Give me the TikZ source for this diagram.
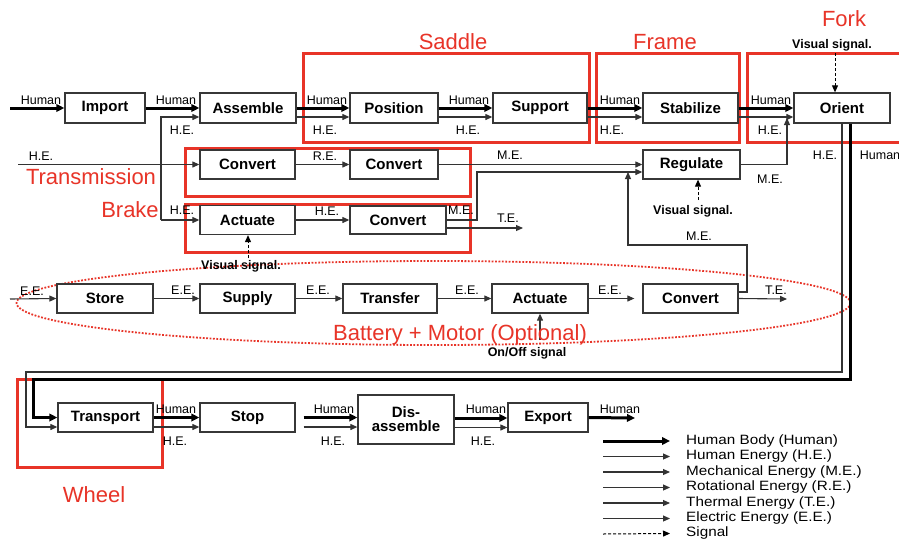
\documentclass[tikz,border=0pt]{standalone}
\usepackage{fontspec}
\setmainfont{Liberation Sans}
\usetikzlibrary{arrows.meta,calc}
\definecolor{redc}{RGB}{232,52,40}
\definecolor{boxc}{RGB}{55,55,55}
\begin{document}
\begin{tikzpicture}[x=1pt,y=-1pt,
  fbox/.style={draw=boxc, line width=1.3pt, fill=white, font=\fontsize{15}{16}\selectfont\bfseries, inner sep=0pt, align=center},
  lbl/.style={font=\fontsize{12.5}{13}\selectfont, inner sep=0pt},
  sigl/.style={font=\fontsize{12.5}{13}\selectfont\bfseries, inner sep=0pt},
  redlbl/.style={text=redc, font=\fontsize{22}{24}\selectfont, inner sep=0pt},
  hum/.style={line width=3pt, -{Triangle[length=8pt,width=7.5pt]}},
  he/.style={line width=1.1pt, draw=black!80, -{Triangle[length=7pt,width=6pt]}},
  sigarr/.style={line width=1pt, dash pattern=on 3pt off 2pt, -{Triangle[length=7pt,width=6pt]}},
  redbox/.style={draw=redc, line width=3pt},
  legt/.style={font=\fontsize{13.5}{14}\selectfont, inner sep=0pt, anchor=west, xscale=1.13}]
\useasboundingbox[fill=white] (0,0) rectangle (899,541);

% ---------- red annotation boxes ----------
\draw[redbox] (303,53) rectangle (589,142);
\draw[redbox] (596,53) rectangle (739,142);
\draw[redbox] (899,53) -- (747,53) -- (747,142) -- (899,142);
\draw[redbox] (185,148) rectangle (470,196);
\draw[redbox] (185,204) rectangle (470,252);
\draw[redbox] (17,379) rectangle (162,467);
\draw[redc, line width=1.8pt, dash pattern=on 1.8pt off 1.6pt] (433.5,303) ellipse [x radius=417, y radius=42];

% ---------- boxes ----------
\node[fbox, minimum width=80, minimum height=30] (import) at (105,108) {Import};
\node[fbox, minimum width=96, minimum height=30] (assemble) at (248,108) {Assemble};
\node[fbox, minimum width=88, minimum height=30] (position) at (394,108) {Position};
\node[fbox, minimum width=94, minimum height=30] (support) at (540,108) {Support};
\node[fbox, minimum width=95, minimum height=30] (stabilize) at (690.5,108) {Stabilize};
\node[fbox, minimum width=96, minimum height=30] (orient) at (842,108) {Orient};
\node[fbox, minimum width=95, minimum height=29] (conv1) at (247.5,164.5) {Convert};
\node[fbox, minimum width=88, minimum height=29] (conv2) at (394,164.5) {Convert};
\node[fbox, minimum width=97, minimum height=29] (regulate) at (691.5,164.5) {Regulate};
\node[fbox, minimum width=95, minimum height=29] (actuate1) at (247.5,220) {Actuate};
\node[fbox, minimum width=96, minimum height=28] (conv3) at (398,220) {Convert};
\node[fbox, minimum width=96, minimum height=29] (store) at (105,298.5) {Store};
\node[fbox, minimum width=95, minimum height=29] (supply) at (247.5,298.5) {Supply};
\node[fbox, minimum width=94, minimum height=29] (transfer) at (390,298.5) {Transfer};
\node[fbox, minimum width=96, minimum height=29] (actuate2) at (540,298.5) {Actuate};
\node[fbox, minimum width=95, minimum height=29] (conv4) at (690.5,298.5) {Convert};
\node[fbox, minimum width=95, minimum height=29] (transport) at (105.5,417.5) {Transport};
\node[fbox, minimum width=95, minimum height=29] (stop) at (247.5,417.5) {Stop};
\node[fbox, minimum width=96, minimum height=49] (disassemble) at (406,419.5) {Dis-\\[-2pt]assemble};
\node[fbox, minimum width=80, minimum height=29] (export) at (548,417.5) {Export};

% ---------- free ends ----------
\coordinate (inHum) at (10,108);
\coordinate (inHE) at (18,164.5);
\coordinate (hv) at (161,220);
\coordinate (me3) at (477,172);
\coordinate (te3) at (523,228);
\coordinate (vs1) at (835,53);
\coordinate (vs2) at (698,200);
\coordinate (vs3) at (248,258);
\coordinate (mejoin) at (787,118);
\coordinate (c4a) at (747,245);
\coordinate (c4b) at (628,172);
\coordinate (thinL) at (26,372);
\coordinate (thickL) at (33,379);
\coordinate (inEE) at (10,299);
\coordinate (teOut) at (787,299);
\coordinate (onoff) at (540,340);
\coordinate (outHum) at (635,418);

% ---------- row 1 ----------
\draw[hum] (inHum) -- (import.west);
\draw[hum] (import.east) -- (assemble.west);
\draw[he] (hv) |- ([yshift=-9pt]assemble.west);
\draw[he] (hv) -- (actuate1.west);
\draw[hum] (assemble.east) -- (position.west);
\draw[he] ([yshift=-9pt]assemble.east) -- ([yshift=-9pt]position.west);
\draw[hum] (position.east) -- (support.west);
\draw[he] ([yshift=-9pt]position.east) -- ([yshift=-9pt]support.west);
\draw[hum] (support.east) -- (stabilize.west);
\draw[he] ([yshift=-9pt]support.east) -- ([yshift=-9pt]stabilize.west);
\draw[hum] (stabilize.east) -- (orient.west);
\draw[he] ([yshift=-9pt]stabilize.east) -- ([yshift=-9pt]orient.west);
\draw[sigarr] (vs1) -- (vs1 |- orient.north);

% ---------- row 2/3 ----------
\draw[he] (inHE) -- (conv1.west);
\draw[he] (conv1.east) -- (conv2.west);
\draw[he] (conv2.east) -- (conv2.east -| regulate.west);
\draw[he] (actuate1.east) -- (conv3.west);
\draw[he] (conv3.east) -| (me3) -- ([yshift=-7.5pt]regulate.west);
\draw[he] ([yshift=-8pt]conv3.east) -- (te3);
\draw[sigarr] (vs2) -- (vs2 |- regulate.south);
\draw[sigarr] (vs3) -- (vs3 |- actuate1.south);
\draw[he] (regulate.east) -| (mejoin);
\draw[he] ([yshift=6.5pt]conv4.east) -| (c4a) -| (c4b);

% ---------- loop from Orient ----------
\draw[he] (orient.south) |- (thinL) |- ([yshift=-9.5pt]transport.west);
\draw[hum] ([xshift=8pt]orient.south) |- (thickL) |- (transport.west);

% ---------- row 4 ----------
\draw[he] (inEE) -- (store.west);
\draw[he] (store.east) -- (supply.west);
\draw[he] (supply.east) -- (transfer.west);
\draw[he] (transfer.east) -- (actuate2.west);
\draw[he, shorten >=8pt] (actuate2.east) -- (conv4.west);
\draw[he] (conv4.east) -- (teOut);
\draw[he] (onoff) -- (actuate2.south);

% ---------- row 5 ----------
\draw[hum] (transport.east) -- (stop.west);
\draw[he] ([yshift=-9.5pt]transport.east) -- ([yshift=-9.5pt]stop.west);
\draw[hum, shorten <=8pt] (stop.east) -- (stop.east -| disassemble.west);
\draw[he, shorten <=8pt] ([yshift=-9.5pt]stop.east) -- ([yshift=-9.5pt]stop.east -| disassemble.west);
\draw[hum] (disassemble.west -| disassemble.east) ++(0,-1.5) coordinate (dE) (dE) -- (dE -| export.west);
\draw[he] ([yshift=-9.5pt]dE) -- ([yshift=-9.5pt]dE -| export.west);
\draw[hum] (export.east) -- (outHum);

% ---------- small labels ----------
\node[lbl] (t1) at (41,100) {Human};
\node[lbl] (t2) at (176,100) {Human};
\node[lbl] (t3) at (182,130) {H.E.};
\node[lbl] (t4) at (327,100) {Human};
\node[lbl] (t5) at (325,130) {H.E.};
\node[lbl] (t6) at (469,100) {Human};
\node[lbl] (t7) at (468,130) {H.E.};
\node[lbl] (t8) at (620,100) {Human};
\node[lbl] (t9) at (612,130) {H.E.};
\node[lbl] (t10) at (771,100) {Human};
\node[lbl] (t11) at (770,130) {H.E.};
\node[lbl] (t12) at (41,156) {H.E.};
\node[lbl] (t13) at (325,156) {R.E.};
\node[lbl] (t14) at (510,155) {M.E.};
\node[lbl] (t15) at (182,210) {H.E.};
\node[lbl] (t16) at (327,211) {H.E.};
\node[lbl] (t17) at (461,210) {M.E.};
\node[lbl] (t18) at (508,218) {T.E.};
\node[lbl] (t19) at (770,179) {M.E.};
\node[lbl] (t20) at (699,236) {M.E.};
\node[lbl] (t21) at (825,155) {H.E.};
\node[lbl] (t22) at (880,155) {Human};
\node[lbl] (t23) at (32,291) {E.E.};
\node[lbl] (t24) at (183,290) {E.E.};
\node[lbl] (t25) at (318,290) {E.E.};
\node[lbl] (t26) at (467,290) {E.E.};
\node[lbl] (t27) at (610,290) {E.E.};
\node[lbl] (t28) at (776,290) {T.E.};
\node[lbl] (t29) at (176,409) {Human};
\node[lbl] (t30) at (175,441) {H.E.};
\node[lbl] (t31) at (334,409) {Human};
\node[lbl] (t32) at (333,441) {H.E.};
\node[lbl] (t33) at (486,409) {Human};
\node[lbl] (t34) at (483,441) {H.E.};
\node[lbl] (t35) at (620,409) {Human};

\node[sigl] (s1) at (832,45) {Visual signal.};
\node[sigl] (s2) at (693,211) {Visual signal.};
\node[sigl] (s3) at (241,266) {Visual signal.};
\node[sigl] (s4) at (527,353) {On/Off signal};

% ---------- red labels ----------
\node[redlbl] (r1) at (453,42) {Saddle};
\node[redlbl] (r2) at (665,42) {Frame};
\node[redlbl] (r3) at (844,19) {Fork};
\node[redlbl] (r4) at (91,177) {Transmission};
\node[redlbl] (r5) at (130,210) {Brake};
\node[redlbl] (r6) at (460,335) {Battery + Motor (Optional)};
\node[redlbl] (r7) at (94,495) {Wheel};

% ---------- legend ----------
\node[legt] (g1) at (686,441) {Human Body (Human)};
\node[legt] (g2) at (686,456.5) {Human Energy (H.E.)};
\node[legt] (g3) at (686,472) {Mechanical Energy (M.E.)};
\node[legt] (g4) at (686,487.5) {Rotational Energy (R.E.)};
\node[legt] (g5) at (686,503) {Thermal Energy (T.E.)};
\node[legt] (g6) at (686,518.5) {Electric Energy (E.E.)};
\node[legt] (g7) at (686,533.5) {Signal};
\draw[hum] (603,441) coordinate (a1) -- ([xshift=-16pt]g1.west);
\draw[he] (603,456.5) coordinate (a2) -- ([xshift=-16pt]g2.west);
\draw[he] (603,472) coordinate (a3) -- ([xshift=-16pt]g3.west);
\draw[he] (603,487.5) coordinate (a4) -- ([xshift=-16pt]g4.west);
\draw[he] (603,503) coordinate (a5) -- ([xshift=-16pt]g5.west);
\draw[he] (603,518.5) coordinate (a6) -- ([xshift=-16pt]g6.west);
\draw[sigarr] (603,534) coordinate (a7) -- ([xshift=-16pt]g7.west);
\end{tikzpicture}
\end{document}
